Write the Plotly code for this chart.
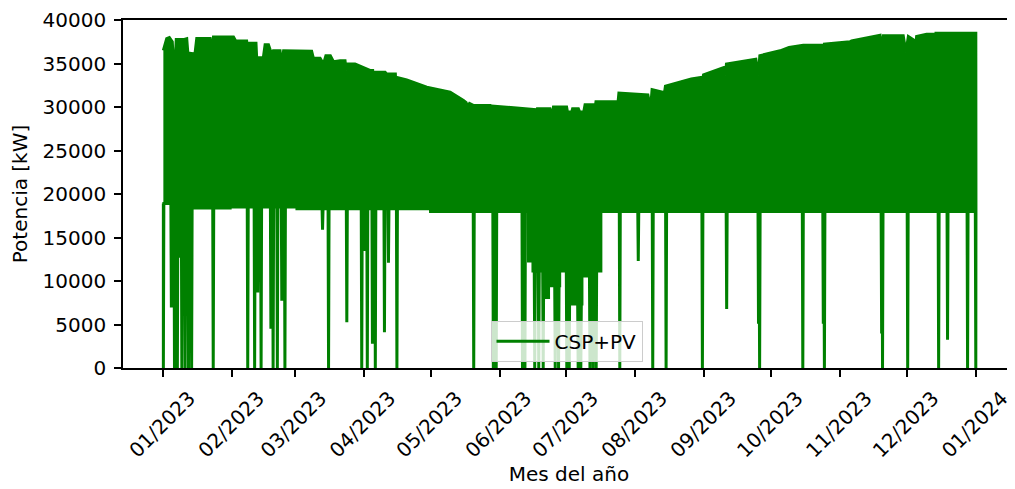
import numpy as np
import pandas as pd
import plotly.graph_objects as go

# Potencia CSP+PV 2023 (dia del año, kW)

# envolvente superior (maximos)
top_days = [0, 1.5, 2.7, 4.0, 4.4, 5.4, 5.8, 9.0, 10.5, 11.0, 14.2, 15.0, 21.0, 21.7, 22.5,
            31.5, 32.5, 37.4, 37.9, 38.6, 41.6, 41.9, 44.9, 45.7, 47.2, 48.7, 49.4, 52.4,
            53.0, 54.0, 66.6, 67.4, 70.4, 71.9, 73.0, 75.0, 76.4, 79.4, 81.6, 82.1, 82.4,
            86.1, 92.8, 94.0, 94.3, 94.8, 99.6, 100.3, 104.2, 104.5, 104.8, 109.3, 118.3,
            128.8, 134.8, 136.0, 136.5, 137.5, 139.2, 146.7, 147.3, 147.9, 167.2, 167.6,
            168.0, 173.6, 174.4, 175.2, 181.1, 181.5, 183.4, 183.8, 186.4, 187.0, 188.8,
            189.4, 193.1, 193.6, 194.3, 203.4, 204.0, 204.6, 217.6, 218.8, 219.5, 224.3,
            224.8, 225.5, 237.1, 241.5, 242.0, 242.6, 252.0, 252.4, 252.9, 266.1, 267.2,
            267.9, 277.0, 281.0, 287.4, 296.0, 296.4, 296.9, 308.4, 309.1, 321.9, 322.6,
            323.4, 332.3, 333.5, 334.6, 337.6, 337.9, 338.3, 342.8, 346.2, 346.5, 347.0,
            350.0, 350.4, 350.9, 360.0, 360.5, 361.2, 364.9]
top_kw = [36500, 37860, 37980, 37500, 35700, 35700, 37750, 37750, 37860, 36200, 36100, 37860,
          37860, 36350, 38050, 38050, 37600, 37600, 35500, 37330, 37330, 35670, 35670, 37150,
          37150, 36000, 36460, 36460, 34750, 36460, 36400, 35600, 35600, 34930, 35900, 35900,
          35200, 35320, 35320, 34180, 34930, 34930, 34200, 34200, 32080, 33980, 33980, 33790,
          33790, 32000, 33400, 33100, 32270, 31700, 30750, 30500, 30000, 30400, 30180, 30180,
          29220, 30100, 29700, 29220, 29790, 29790, 28960, 29990, 29990, 29420, 29420, 29790,
          29790, 29420, 29420, 30250, 30250, 29220, 30600, 30600, 29990, 31600, 31400, 29790,
          32000, 31700, 31130, 32400, 33220, 33400, 32840, 33700, 34550, 33600, 34930, 35500,
          33600, 35900, 36460, 36840, 37100, 37100, 35500, 37220, 37490, 37600, 38240, 36640,
          38200, 38200, 36270, 38100, 37600, 36640, 38100, 38360, 38360, 36640, 38470, 38470,
          36640, 38470, 38470, 37030, 38470, 38470]

# borde inferior de la banda (escalones)
floor_days = [0, 4, 30, 60, 120, 164.0, 166.0, 171.4, 173.0, 178.0, 182.7, 188.0, 194.6, 196.5]
floor_kw = [18900, 18400, 18500, 18300, 18000, 12300, 11150, 8100, 9440, 11150, 7350, 10580,
            11150, 18000]

# caidas puntuales por debajo de la banda
drop_days = [0.0, 3.6, 5.0, 6.3, 7.5, 8.3, 9.8, 11.3, 12.7, 22.4, 37.9, 41.0, 42.4, 43.9,
             48.3, 49.3, 51.2, 53.2, 54.6, 71.5, 74.2, 82.4, 89.1, 90.6, 91.6, 93.9, 95.2,
             99.3, 101.1, 104.9, 139.4, 148.2, 149.5, 161.3, 162.4, 166.8, 168.6, 170.6,
             176.0, 177.5, 181.2, 182.3, 186.3, 187.5, 191.6, 193.0, 194.4, 205.0, 213.3,
             219.8, 225.8, 242.1, 253.0, 267.3, 267.8, 287.2, 296.4, 296.9, 322.6, 323.0,
             334.3, 348.2, 352.2, 361.2, 364.9]
drop_kw = [0, 6960, 0, 0, 12670, 0, 0, 0, 0, 0, 0, 0, 8680, 0, 4500, 0, 0, 7730, 0, 15900,
           0, 5250, 0, 13440, 0, 2800, 0, 4110, 12100, 0, 0, 0, 0, 0, 0, 0, 0, 0, 0, 0, 0, 0,
           0, 0, 0, 0, 0, 0, 12300, 0, 0, 0, 6780, 5100, 0, 0, 5100, 0, 3960, 0, 0, 0, 3240,
           0, 0]

start = pd.Timestamp("2023-01-01")
end_day = 364.96
hw = 0.22


def to_date(days):
    return start + pd.to_timedelta(np.asarray(days, dtype=float), unit="D")


def level(d):
    i = np.searchsorted(floor_days, d, side="right") - 1
    return floor_kw[max(i, 0)]


# camino inferior: escalones + caidas
events = [(d, "f", v) for d, v in zip(floor_days[1:], floor_kw[1:])]
events += [(d, "d", v) for d, v in zip(drop_days, drop_kw)]
events.sort()
bx, by = [0.0], [floor_kw[0]]
for d, kind, v in events:
    if kind == "f":
        bx += [d, d]
        by += [level(d - 1e-6), v]
    else:
        lv = level(d)
        bx += [max(d - hw, 0), d, min(d + hw, end_day)]
        by += [lv, v, lv]
bx.append(end_day)
by.append(level(end_day))

px_ = list(top_days) + bx[::-1]
py_ = list(top_kw) + by[::-1]

fig = go.Figure()
fig.add_trace(go.Scatter(x=to_date(px_), y=py_, mode="lines", fill="toself",
                         fillcolor="green", line=dict(color="green", width=3),
                         showlegend=False, hoverinfo="skip"))
fig.add_trace(go.Scatter(x=[None], y=[None], mode="lines", name="CSP+PV",
                         line=dict(color="green", width=3)))

font = dict(family="DejaVu Sans", size=20, color="black")
# la pagina tiene 8 px de margen en el body: se descuenta aqui
fig.update_layout(
    width=1007, height=481,
    margin=dict(l=115, r=0, t=10, b=121),
    paper_bgcolor="white", plot_bgcolor="white",
    font=font,
    legend=dict(x=0.412, y=0.136, xanchor="left", yanchor="top",
                bgcolor="rgba(255,255,255,0.8)", bordercolor="#cccccc", borderwidth=1,
                font=font, itemwidth=53),
)
fig.update_xaxes(
    type="date", range=["2022-12-13 21:00", "2024-01-18 12:00"],
    tick0="2023-01-01", dtick="M1", tickformat="%m/%Y", tickangle=-45,
    ticks="outside", ticklen=7, tickwidth=1.6, tickcolor="black",
    showline=True, linecolor="black", linewidth=1.6, mirror=True,
    showgrid=False, zeroline=False, ticklabeloverflow="allow",
    ticklabelshift=26, ticklabelstandoff=2,
    title=dict(text="Mes del año", font=font, standoff=3),
)
fig.update_yaxes(
    range=[0, 40000], dtick=5000, tickformat="d",
    ticks="outside", ticklen=7, tickwidth=1.6, tickcolor="black",
    showline=True, linecolor="black", linewidth=1.6,
    showgrid=False, zeroline=False, ticklabelstandoff=4, ticklabeloverflow="allow",
    title=dict(text="Potencia [kW]", font=font, standoff=10),
)

fig.write_html("out.html")
